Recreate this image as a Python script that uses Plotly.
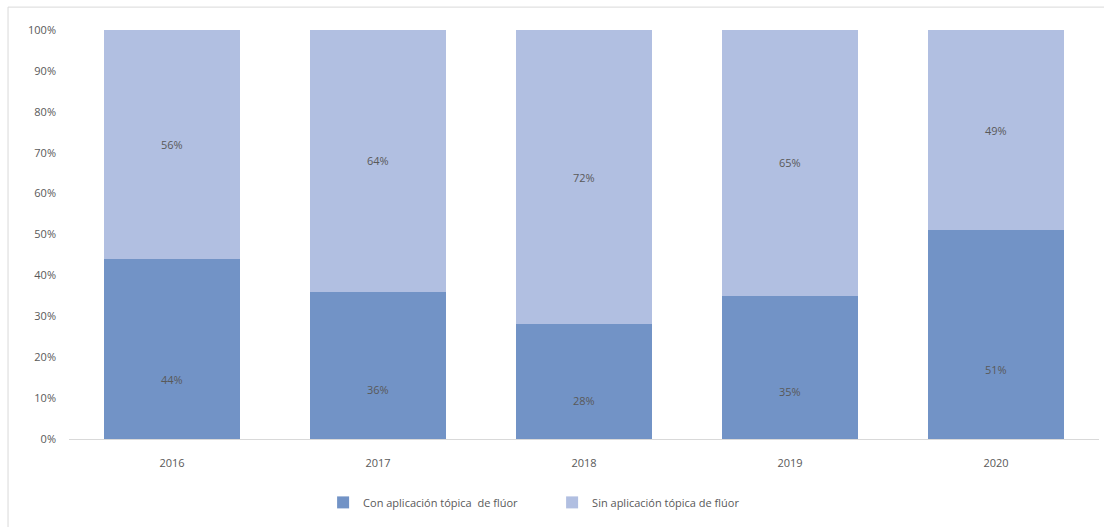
import plotly.graph_objects as go

years = ["2016", "2017", "2018", "2019", "2020"]
con_fluor = [0.44, 0.36, 0.28, 0.35, 0.51]
sin_fluor = [0.56, 0.64, 0.72, 0.65, 0.49]
series_names = ["Con aplicación tópica  de flúor", "Sin aplicación tópica de flúor"]
y_ticks = [i / 10 for i in range(11)]

dark = "#7293c6"
light = "#b1bfe1"
txt = "#595959"
font_family = "Open Sans, Noto Sans, sans-serif"

fig = go.Figure()
fig.add_trace(go.Bar(x=years, y=con_fluor, name=series_names[0], marker_color=dark,
                     marker_line_width=0, hoverinfo="skip"))
fig.add_trace(go.Bar(x=years, y=sin_fluor, name=series_names[1], marker_color=light,
                     marker_line_width=0, hoverinfo="skip"))

annotations = []
for i, (c, s) in enumerate(zip(con_fluor, sin_fluor)):
    annotations.append(dict(x=i, y=c / 3, xref="x", yref="y", text=f"{round(c*100)}%",
                            showarrow=False, font=dict(size=11, color=txt, family=font_family)))
    annotations.append(dict(x=i, y=c + s / 2, xref="x", yref="y", text=f"{round(s*100)}%",
                            showarrow=False, font=dict(size=11, color=txt, family=font_family)))

fig.update_layout(
    width=1104, height=527,
    margin=dict(l=69, r=5, t=30, b=88),
    barmode="stack", bargap=0.34,
    paper_bgcolor="white", plot_bgcolor="white",
    font=dict(family=font_family, size=11, color=txt),
    showlegend=True,
    legend=dict(orientation="h", x=0.2467, xanchor="left", y=-0.155, yanchor="middle",
                font=dict(size=11, color=txt), itemwidth=30, traceorder="normal",
                entrywidth=184, entrywidthmode="pixels"),
    annotations=annotations,
    shapes=[dict(type="rect", xref="paper", yref="paper", x0=-0.0592, x1=1.011,
                 y0=-0.23, y1=1.056, line=dict(color="#d9d9d9", width=1), layer="below")],
    xaxis=dict(type="category", range=[-0.5, len(years) - 0.5], showgrid=False, showline=True,
               linecolor="#d9d9d9", linewidth=1,
               ticks="", tickfont=dict(size=11, color=txt), ticklabelstandoff=14),
    yaxis=dict(range=[0, 1], tickvals=y_ticks, tickformat=".0%", showgrid=False,
               zeroline=False, showline=False, ticks="", tickfont=dict(size=11, color=txt),
               ticklabelstandoff=12),
)

fig.write_html("out.html")
